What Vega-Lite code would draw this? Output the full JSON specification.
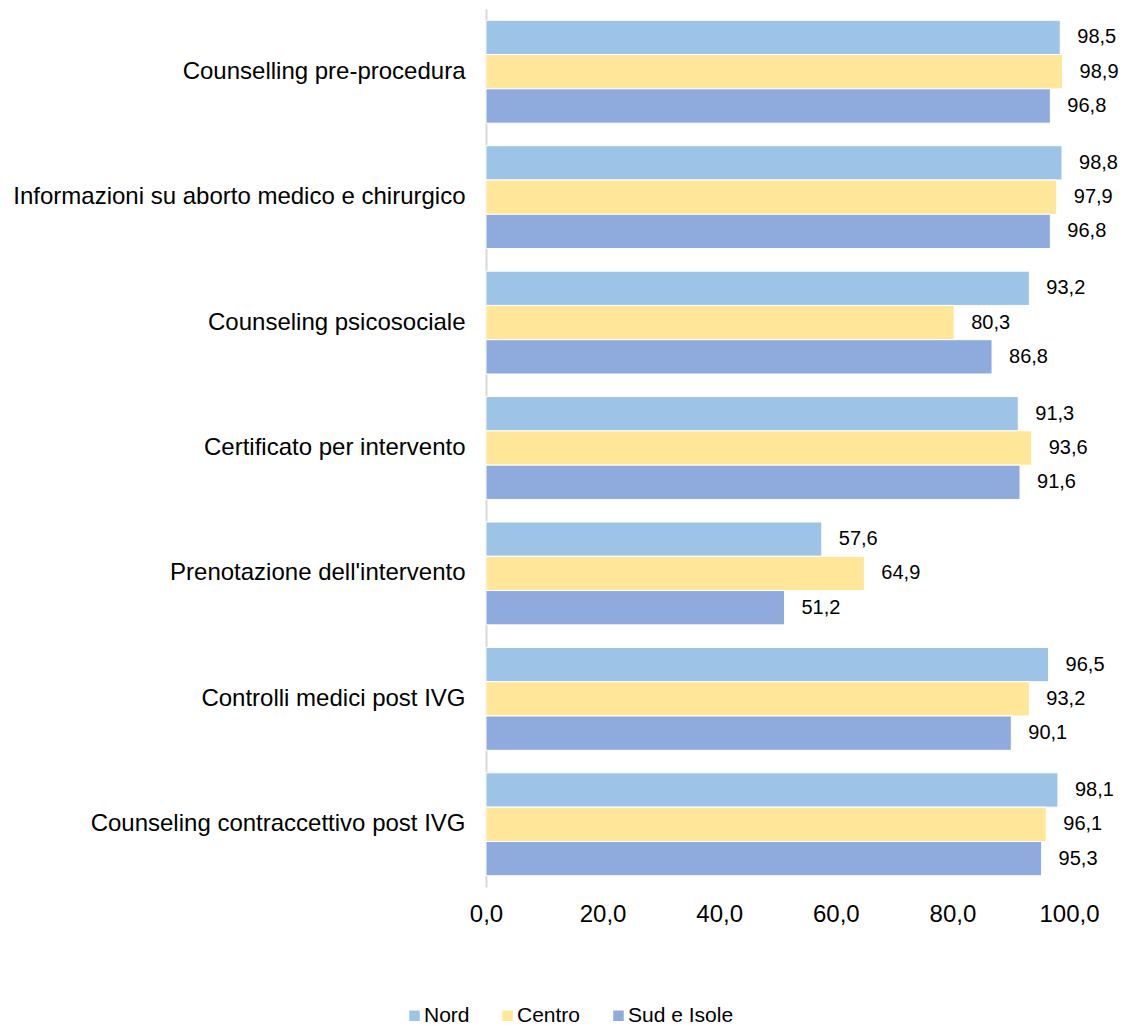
{
  "$schema": "https://vega.github.io/schema/vega-lite/v6.json",
  "autosize": "none",
  "width": 583,
  "height": 878,
  "padding": {"left": 486, "top": 9, "right": 59, "bottom": 138},
  "background": "white",
  "config": {
    "view": {"stroke": null},
    "font": "Liberation Sans",
    "locale": {"number": {"decimal": ",", "thousands": ".", "grouping": [3], "currency": ["€", ""]}}
  },
  "data": {
    "values": [
      {"voce": "Counselling pre-procedura", "area": "Nord", "valore": 98.5},
      {"voce": "Counselling pre-procedura", "area": "Centro", "valore": 98.9},
      {"voce": "Counselling pre-procedura", "area": "Sud e Isole", "valore": 96.8},
      {"voce": "Informazioni su aborto medico e chirurgico", "area": "Nord", "valore": 98.8},
      {"voce": "Informazioni su aborto medico e chirurgico", "area": "Centro", "valore": 97.9},
      {"voce": "Informazioni su aborto medico e chirurgico", "area": "Sud e Isole", "valore": 96.8},
      {"voce": "Counseling psicosociale", "area": "Nord", "valore": 93.2},
      {"voce": "Counseling psicosociale", "area": "Centro", "valore": 80.3},
      {"voce": "Counseling psicosociale", "area": "Sud e Isole", "valore": 86.8},
      {"voce": "Certificato per intervento", "area": "Nord", "valore": 91.3},
      {"voce": "Certificato per intervento", "area": "Centro", "valore": 93.6},
      {"voce": "Certificato per intervento", "area": "Sud e Isole", "valore": 91.6},
      {"voce": "Prenotazione dell'intervento", "area": "Nord", "valore": 57.6},
      {"voce": "Prenotazione dell'intervento", "area": "Centro", "valore": 64.9},
      {"voce": "Prenotazione dell'intervento", "area": "Sud e Isole", "valore": 51.2},
      {"voce": "Controlli medici post IVG", "area": "Nord", "valore": 96.5},
      {"voce": "Controlli medici post IVG", "area": "Centro", "valore": 93.2},
      {"voce": "Controlli medici post IVG", "area": "Sud e Isole", "valore": 90.1},
      {"voce": "Counseling contraccettivo post IVG", "area": "Nord", "valore": 98.1},
      {"voce": "Counseling contraccettivo post IVG", "area": "Centro", "valore": 96.1},
      {"voce": "Counseling contraccettivo post IVG", "area": "Sud e Isole", "valore": 95.3}
    ]
  },
  "encoding": {
    "y": {
      "field": "voce",
      "type": "nominal",
      "sort": null,
      "title": null,
      "scale": {"paddingInner": 0.18, "paddingOuter": 0.09},
      "axis": {
        "domainColor": "#d9d9d9",
        "domainWidth": 2,
        "ticks": false,
        "labelFontSize": 24,
        "labelColor": "#000000",
        "labelPadding": 21,
        "labelLimit": 500
      }
    },
    "yOffset": {
      "field": "area",
      "type": "nominal",
      "sort": ["Nord", "Centro", "Sud e Isole"]
    },
    "x": {
      "field": "valore",
      "type": "quantitative",
      "title": null,
      "scale": {"domain": [0, 100], "nice": false},
      "axis": {
        "values": [0, 20, 40, 60, 80, 100],
        "format": ".1f",
        "domain": false,
        "ticks": false,
        "grid": false,
        "labelFontSize": 24,
        "labelColor": "#000000",
        "labelPadding": 15,
        "labelFlush": false
      }
    }
  },
  "layer": [
    {
      "mark": {"type": "bar", "stroke": "white", "strokeWidth": 1},
      "encoding": {
        "color": {
          "field": "area",
          "type": "nominal",
          "sort": ["Nord", "Centro", "Sud e Isole"],
          "scale": {"domain": ["Nord", "Centro", "Sud e Isole"], "range": ["#9DC3E6", "#FFE699", "#8FAADC"]},
          "legend": {
            "title": null,
            "orient": "none",
            "direction": "horizontal",
            "legendX": -82,
            "legendY": 996,
            "symbolType": "square",
            "symbolSize": 110,
            "symbolStrokeWidth": 0,
            "labelFontSize": 21,
            "labelColor": "#000000",
            "labelOffset": -1,
            "columnPadding": 27
          }
        }
      }
    },
    {
      "mark": {"type": "text", "align": "left", "baseline": "middle", "dx": 17, "fontSize": 20, "color": "#000000"},
      "encoding": {
        "text": {"field": "valore", "type": "quantitative", "format": ".1f"}
      }
    }
  ]
}
